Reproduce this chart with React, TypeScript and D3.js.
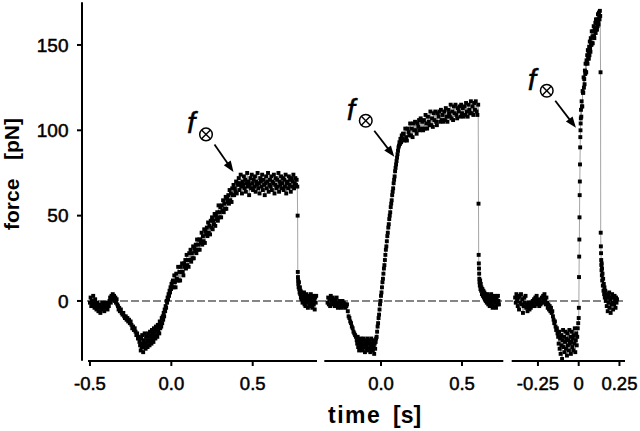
import React from 'react';
import * as d3 from 'd3';

// ---------- DATA ----------
const yTicks = [0, 50, 100, 150];
const panelTicks = [[-0.5, 0, 0.5], [0, 0.5], [-0.25, 0, 0.25]];
const panelTickLabels = [["-0.5", "0.0", "0.5"], ["0.0", "0.5"], ["-0.25", "0", "0.25"]];
const panelDomains = [[-0.512, 0.895], [-0.35, 0.755], [-0.411, 0.284]];
const forceDomain = [-35, 175];

// annotation: centre of the ⊗ label and arrow tip (time, force)
const annotCenters = [[0.213, 97.6], [-0.094, 105.6], [-0.196, 123.2]];
const annotTips = [[0.382, 75.6], [0.082, 84.5], [-0.017, 101.5]];

const panel1: number[][] = [
  [-0.500,-1],[-0.496,2],[-0.492,-3],[-0.488,0],[-0.484,-2],[-0.480,3],[-0.476,-1],[-0.472,-4],[-0.468,1],[-0.464,-2],[-0.460,-5],[-0.456,-1],[-0.452,-3],[-0.448,-6],[-0.444,-2],[-0.440,-4],[-0.436,-7],[-0.432,-3],[-0.428,-5],[-0.424,-1],[-0.420,-4],[-0.416,-2],[-0.412,-6],[-0.408,-3],[-0.404,-1],[-0.400,-4],[-0.396,-2],[-0.392,-5],[-0.388,-1],[-0.384,-3],[-0.380,0],[-0.376,2],[-0.372,-1],[-0.368,3],[-0.364,1],[-0.360,4],[-0.356,2],[-0.352,3],[-0.348,0],[-0.344,2],[-0.340,-1],[-0.336,1],[-0.332,-2],[-0.328,-3],[-0.324,-5],[-0.320,-4],[-0.316,-6],
  [-0.310,-5],[-0.305,-7],[-0.300,-8],[-0.295,-7],[-0.290,-9],[-0.285,-10],[-0.280,-9],[-0.275,-11],[-0.270,-10],[-0.265,-12],[-0.260,-11],[-0.255,-13],[-0.250,-12],[-0.245,-14],[-0.240,-16],[-0.235,-15],[-0.230,-17],[-0.225,-16],[-0.220,-18],[-0.215,-20],[-0.210,-19],[-0.205,-22],[-0.200,-21],[-0.196,-24],[-0.192,-26],
  [-0.188,-29],[-0.185,-22],[-0.182,-27],[-0.179,-20],[-0.176,-25],[-0.173,-30],[-0.170,-23],[-0.167,-27],[-0.164,-19],[-0.161,-25],[-0.158,-28],[-0.155,-21],[-0.152,-26],[-0.149,-23],[-0.146,-27],[-0.143,-19],[-0.140,-24],[-0.137,-21],[-0.134,-26],[-0.131,-18],[-0.128,-23],[-0.125,-20],[-0.122,-25],[-0.119,-17],[-0.116,-22],[-0.113,-19],[-0.110,-24],[-0.107,-16],[-0.104,-21],[-0.101,-18],[-0.098,-22],[-0.095,-15],[-0.092,-20],[-0.089,-17],[-0.086,-21],[-0.083,-14],[-0.080,-18],[-0.077,-15],[-0.074,-19],[-0.071,-12],[-0.068,-16],[-0.065,-13],[-0.062,-15],[-0.059,-10],[-0.056,-13],[-0.053,-9],[-0.050,-11],[-0.047,-7],[-0.044,-9],[-0.041,-5],
  [-0.038,-6],[-0.035,-3],[-0.032,-4],[-0.029,0],[-0.026,-1],[-0.023,2],[-0.020,1],[-0.017,4],[-0.014,3],[-0.011,6],[-0.008,5],[-0.005,8],[-0.002,7],[0.001,10],[0.004,8],[0.007,11],
  [0.010,12],[0.014,8],[0.018,15],[0.022,11],[0.026,8],[0.030,16],[0.034,13],[0.038,12],[0.042,20],[0.046,12],[0.050,17],[0.054,12],[0.058,20],[0.062,17],[0.066,22],[0.070,17],[0.074,15],[0.078,22],[0.082,20],[0.086,24],[0.090,19],[0.094,27],[0.098,21],[0.102,24],[0.106,20],[0.110,28],[0.114,24],[0.118,30],[0.122,23],[0.126,28],[0.130,25],[0.134,32],[0.138,25],[0.142,31],[0.146,29],[0.150,33],[0.154,28],[0.158,36],[0.162,30],[0.166,33],[0.170,36],[0.174,30],[0.178,36],[0.182,34],[0.186,40],[0.190,33],[0.194,38],[0.198,35],[0.202,42],[0.206,34],[0.210,41],[0.214,39],[0.218,43],[0.222,38],[0.226,46],[0.230,40],[0.234,44],[0.238,39],[0.242,47],[0.246,43],[0.250,49],[0.254,42],[0.258,47],[0.262,45],[0.266,51],[0.270,44],[0.274,50],[0.278,48],[0.282,52],[0.286,47],[0.290,56],[0.294,49],[0.298,52],[0.302,55],[0.306,49],[0.310,56],[0.314,53],[0.318,59],[0.322,52],[0.326,57],[0.330,54],[0.334,61],[0.338,54],[0.342,60],[0.346,58],[0.350,62],[0.354,57],[0.358,65],[0.362,59],[0.366,63],[0.370,58],[0.374,66],[0.378,62],[0.382,68],[0.386,62],[0.390,66],[0.394,64],[0.398,70],[0.402,63],[0.406,69],[0.410,68],
  [0.414,72],[0.418,65],[0.422,69],[0.426,74],[0.430,67],[0.434,63],[0.438,70],[0.442,68],[0.446,73],[0.450,66],
  [0.454,71],[0.458,64],[0.462,69],[0.466,75],[0.470,67],[0.474,70],[0.478,62],[0.482,68],[0.486,72],[0.490,66],
  [0.494,74],[0.498,69],[0.502,65],[0.506,71],[0.510,67],[0.514,73],[0.518,64],[0.522,70],[0.526,68],[0.530,75],
  [0.534,66],[0.538,69],[0.542,63],[0.546,72],[0.550,70],[0.554,67],[0.558,74],[0.562,65],[0.566,71],[0.570,68],
  [0.574,62],[0.578,69],[0.582,73],[0.586,66],[0.590,70],[0.594,75],[0.598,64],[0.602,68],[0.606,71],[0.610,67],
  [0.614,73],[0.618,65],[0.622,70],[0.626,69],[0.630,74],[0.634,63],[0.638,68],[0.642,72],[0.646,66],[0.650,71],
  [0.654,67],[0.658,75],[0.662,64],[0.666,70],[0.670,68],[0.674,73],[0.678,66],[0.682,69],[0.686,72],[0.690,65],
  [0.694,71],[0.698,67],[0.702,74],[0.706,63],[0.710,69],[0.714,70],[0.718,66],[0.722,73],[0.726,68],[0.730,71],
  [0.734,64],[0.738,72],[0.742,67],[0.746,70],[0.750,74],[0.754,66],[0.758,69],[0.762,72],[0.766,68],[0.770,71],[0.774,67],
  [0.776,50],[0.777,17],[0.778,14],[0.779,12],[0.780,10],[0.782,8],[0.784,11],[0.786,7],[0.788,5],[0.790,8],[0.792,4],[0.794,6],[0.796,2],[0.798,5],[0.800,1],[0.803,4],[0.806,-1],[0.809,3],[0.812,0],[0.815,5],[0.818,-2],[0.821,2],[0.824,-3],[0.827,1],[0.830,4],[0.833,-1],[0.836,3],[0.839,-4],[0.842,0],[0.845,2],[0.848,-3],[0.851,1],[0.854,-2],[0.857,4],[0.860,-1],[0.863,2],[0.866,-4],[0.869,0],[0.872,3],[0.875,-2],[0.878,1],[0.881,-5],[0.884,2],[0.887,-1],[0.890,3]
];

const panel2: number[][] = [
  [-0.330,-1],[-0.326,2],[-0.322,-2],[-0.318,1],[-0.314,-3],[-0.310,3],[-0.306,0],[-0.302,-2],[-0.298,2],[-0.294,-1],[-0.290,1],[-0.286,-3],[-0.282,0],[-0.278,-2],[-0.274,2],[-0.270,-1],[-0.266,-4],[-0.262,-2],[-0.258,0],[-0.254,-3],[-0.250,-1],[-0.246,-4],[-0.242,-2],[-0.238,0],[-0.234,-3],[-0.230,-1],[-0.226,-2],[-0.222,-4],[-0.218,-2],[-0.214,-3],[-0.210,-2],
  [-0.205,-6],[-0.200,-9],[-0.195,-10],[-0.190,-12],[-0.185,-13],[-0.180,-15],[-0.175,-16],[-0.170,-18],[-0.165,-19],[-0.160,-20],[-0.155,-21],[-0.150,-23],
  [-0.147,-25],[-0.144,-21],[-0.141,-27],[-0.138,-23],[-0.135,-29],[-0.132,-24],[-0.129,-26],[-0.126,-22],[-0.123,-28],[-0.120,-25],[-0.117,-23],[-0.114,-29],[-0.111,-26],[-0.108,-22],[-0.105,-27],[-0.102,-24],[-0.099,-30],[-0.096,-25],[-0.093,-23],[-0.090,-28],[-0.087,-26],[-0.084,-22],[-0.081,-29],[-0.078,-25],[-0.075,-23],[-0.072,-28],[-0.069,-24],[-0.066,-30],[-0.063,-26],[-0.060,-22],[-0.057,-28],[-0.054,-25],[-0.051,-29],[-0.048,-23],[-0.045,-27],[-0.042,-31],[-0.039,-25],[-0.036,-28],[-0.033,-24],[-0.030,-22],
  [-0.027,-21],[-0.024,-18],[-0.021,-15],[-0.018,-13],[-0.015,-10],[-0.012,-8],[-0.009,-5],[-0.006,-2],[-0.003,0],[0.000,3],[0.003,5],[0.006,8],[0.009,11],[0.012,13],[0.015,16],[0.018,19],[0.021,21],[0.024,24],[0.027,27],[0.030,30],[0.033,32],[0.036,35],[0.039,38],[0.042,40],[0.045,43],[0.048,45],[0.051,48],[0.054,50],[0.057,52],[0.060,55],[0.063,57],[0.066,59],[0.069,62],[0.072,64],[0.075,66],[0.078,69],[0.081,71],[0.084,73],[0.087,76],[0.090,78],[0.093,80],[0.096,82],[0.099,84],[0.102,86],[0.105,88],[0.108,90],[0.111,91],[0.114,93],[0.117,92],[0.120,95],[0.124,93],[0.128,97],[0.132,95],[0.136,98],
  [0.140,98],[0.145,94],[0.150,101],[0.155,96],[0.160,94],[0.165,101],[0.170,99],[0.175,97],[0.180,104],[0.185,97],[0.190,101],[0.195,96],[0.200,104],[0.205,100],[0.210,105],[0.215,100],[0.220,98],[0.225,104],[0.230,102],[0.235,106],[0.240,100],[0.245,107],[0.250,101],[0.255,105],[0.260,100],[0.265,106],[0.270,101],[0.275,109],[0.280,104],[0.285,101],[0.290,108],[0.295,105],[0.300,103],[0.305,111],[0.310,103],[0.315,107],[0.320,102],[0.325,110],[0.330,106],[0.335,111],[0.340,105],[0.345,103],[0.350,110],[0.355,108],[0.360,111],[0.365,105],[0.370,112],[0.375,106],[0.380,109],[0.385,105],[0.390,111],[0.395,106],[0.400,113],[0.405,108],[0.410,105],[0.415,112],[0.420,110],[0.425,108],[0.430,115],[0.435,107],[0.440,111],[0.445,106],[0.450,114],[0.455,110],[0.460,115],[0.465,109],[0.470,107],[0.475,113],[0.480,111],[0.485,114],[0.490,108],[0.495,115],[0.500,110],[0.505,113],[0.510,108],[0.515,114],[0.520,109],[0.525,116],[0.530,111],[0.535,108],[0.540,115],[0.545,112],[0.550,110],[0.555,117],[0.560,110],[0.565,114],[0.570,109],[0.575,116],[0.580,112],[0.585,117],[0.590,111],[0.595,109],[0.600,115],
  [0.602,57],[0.603,27],[0.604,22],[0.605,19],[0.606,16],[0.607,13],[0.608,11],[0.610,9],[0.612,12],[0.614,7],[0.616,10],[0.618,6],[0.620,8],[0.623,4],[0.626,7],[0.629,3],[0.632,6],[0.635,2],[0.638,5],[0.641,1],[0.644,4],[0.647,0],[0.650,3],[0.653,-1],[0.656,4],[0.659,1],[0.662,-2],[0.665,3],[0.668,0],[0.671,-3],[0.674,2],[0.677,-1],[0.680,4],[0.683,-2],[0.686,1],[0.689,-4],[0.692,2],[0.695,0],[0.698,-3],[0.701,3],[0.704,-1],[0.707,1],[0.710,-4],[0.713,2],[0.716,0],[0.719,-2],[0.722,3],[0.725,0],[0.728,-2]
];

const panel3: number[][] = [
  [-0.390,2],[-0.386,-1],[-0.382,4],[-0.378,0],[-0.374,-3],[-0.370,2],[-0.366,-5],[-0.362,3],[-0.358,-1],[-0.354,4],[-0.350,-2],[-0.346,1],[-0.342,-7],[-0.338,-3],[-0.334,2],[-0.330,-1],[-0.326,3],[-0.322,-4],[-0.318,-2],[-0.314,-6],[-0.310,-3],[-0.306,-1],[-0.302,-5],[-0.298,-2],[-0.294,-4],[-0.290,-1],[-0.286,-3],[-0.282,0],[-0.278,-2],[-0.274,1],[-0.270,-3],[-0.266,2],[-0.262,-1],[-0.258,3],[-0.254,0],[-0.250,-2],[-0.246,1],[-0.242,-3],[-0.238,0],[-0.234,-2],[-0.230,-1],[-0.226,2],[-0.222,-1],[-0.218,3],[-0.214,0],[-0.210,4],[-0.206,1],[-0.202,-2],[-0.198,2],[-0.194,-1],[-0.190,-4],[-0.186,-2],[-0.182,-5],[-0.178,-3],[-0.174,-6],[-0.170,-4],[-0.166,-7],[-0.162,-6],
  [-0.158,-9],[-0.154,-11],[-0.150,-13],[-0.146,-12],[-0.142,-15],[-0.138,-17],[-0.134,-16],[-0.130,-19],[-0.126,-21],
  [-0.123,-25],[-0.120,-18],[-0.117,-28],[-0.114,-22],[-0.111,-31],[-0.108,-20],[-0.105,-26],[-0.102,-34],[-0.099,-23],[-0.096,-17],[-0.093,-27],[-0.090,-21],[-0.087,-30],[-0.084,-24],[-0.081,-18],[-0.078,-28],[-0.075,-22],[-0.072,-32],[-0.069,-19],[-0.066,-26],[-0.063,-23],[-0.060,-29],[-0.057,-17],[-0.054,-25],[-0.051,-21],[-0.048,-31],[-0.045,-24],[-0.042,-18],[-0.039,-27],[-0.036,-22],[-0.033,-29],[-0.030,-20],[-0.027,-25],[-0.024,-16],[-0.021,-30],[-0.018,-23],[-0.015,-19],[-0.012,-26],[-0.009,-21],[-0.006,-16],[-0.003,-13],
  [0.000,-10],[0.001,-4],[0.002,14],[0.003,26],[0.004,36],[0.005,49],[0.006,62],[0.007,70],[0.008,80],[0.009,90],[0.010,96],[0.011,100],[0.012,104],[0.013,107],
  [0.014,112],[0.016,108],[0.018,117],[0.020,114],[0.022,114],[0.024,123],[0.026,122],[0.028,122],[0.030,131],[0.032,125],[0.034,130],[0.036,127],[0.038,135],[0.040,133],[0.042,139],[0.044,134],[0.046,134],[0.048,141],[0.050,140],[0.052,144],[0.054,139],[0.056,147],[0.058,142],[0.060,146],[0.062,142],[0.064,149],[0.066,144],[0.068,152],[0.070,148],[0.072,146],[0.074,154],[0.076,151],[0.078,150],[0.080,158],[0.082,151],[0.084,155],[0.086,151],[0.088,158],[0.090,155],[0.092,161],[0.094,155],[0.096,154],[0.098,160],[0.100,159],[0.102,163],[0.104,157],[0.106,165],[0.108,159],[0.110,163],[0.112,159],[0.114,165],[0.116,161],[0.118,168],[0.120,164],[0.122,162],[0.124,169],[0.126,167],[0.128,165],[0.130,170],[0.132,167],
  [0.134,134],[0.135,40],[0.136,32],[0.137,28],[0.138,24],[0.139,21],[0.140,18],[0.141,22],[0.142,15],[0.143,19],[0.144,12],[0.146,16],[0.148,9],[0.150,13],[0.152,6],[0.154,10],[0.156,4],[0.158,8],[0.160,2],[0.163,6],[0.166,0],[0.169,4],[0.172,-3],[0.175,2],[0.178,-6],[0.181,3],[0.184,-1],[0.187,5],[0.190,-4],[0.193,1],[0.196,-7],[0.199,2],[0.202,-2],[0.205,4],[0.208,-1],[0.211,-5],[0.214,2],[0.217,-2],[0.220,3],[0.223,0],[0.226,-4],[0.229,2],[0.232,-1],[0.235,1]
];

const panels = [panel1, panel2, panel3];

// ---------- LAYOUT ----------
const W = 640, H = 431;
const panelRanges = [[88, 317], [324.3, 503.3], [511.7, 625]];
const yAxisX = 82;
const xAxisY = 361;
const FONT = "'Liberation Sans', Arial, Helvetica, sans-serif";
const M = 3.9; // marker size

const yScale = d3.scaleLinear().domain(forceDomain).range([360.7, 2.3]);

export default function App() {
  const xScales = panelDomains.map((d, i) => d3.scaleLinear().domain(d).range(panelRanges[i]));
  return (
    <svg width={W} height={H} viewBox={`0 0 ${W} ${H}`}
      style={{ position: 'absolute', left: 0, top: 0, background: '#fff' }}>
      <rect x={0} y={0} width={W} height={H} fill="#fff" />
      {/* zero dashed line */}
      <line x1={87} x2={625} y1={yScale(0)} y2={yScale(0)} stroke="#858585" strokeWidth={2} strokeDasharray="8,3" />

      {/* data */}
      {panels.map((data, i) => {
        const xs = xScales[i];
        const line = d3.line<number[]>().x(d => xs(d[0])).y(d => yScale(d[1]));
        return (
          <g key={i}>
            <path d={line(data) || ''} fill="none" stroke="#9a9a9a" strokeWidth={0.9} />
            {data.map((d, j) => (
              <rect key={j} x={xs(d[0]) - M / 2} y={yScale(d[1]) - M / 2} width={M} height={M} fill="#000" />
            ))}
          </g>
        );
      })}

      {/* y axis */}
      <line x1={yAxisX} x2={yAxisX} y1={yScale(forceDomain[1])} y2={yScale(forceDomain[0])} stroke="#000" strokeWidth={2} />
      {yTicks.map(t => (
        <g key={t}>
          <line x1={yAxisX - 5} x2={yAxisX} y1={yScale(t)} y2={yScale(t)} stroke="#000" strokeWidth={2} />
          <text x={68.5} y={yScale(t)} dy="0.35em" textAnchor="end" fontFamily={FONT} fontSize={19}
            stroke="#000" strokeWidth={0.5}>{t}</text>
        </g>
      ))}

      {/* x axes */}
      {xScales.map((xs, i) => (
        <g key={i}>
          <line x1={panelRanges[i][0]} x2={panelRanges[i][1]} y1={xAxisY} y2={xAxisY} stroke="#000" strokeWidth={2} />
          {panelTicks[i].map((t, j) => (
            <g key={j}>
              <line x1={xs(t)} x2={xs(t)} y1={xAxisY} y2={xAxisY + 5} stroke="#000" strokeWidth={2} />
              <text x={xs(t)} y={390} textAnchor="middle" fontFamily={FONT} fontSize={18.5}
                stroke="#000" strokeWidth={0.5}>{panelTickLabels[i][j]}</text>
            </g>
          ))}
        </g>
      ))}

      {/* axis titles */}
      <text transform="translate(19,230) rotate(-90)" fontFamily={FONT} fontSize={21} fontWeight="bold">
        <tspan x={0}>force</tspan>
        <tspan x={70}>[pN]</tspan>
      </text>
      <text x={328} y={423} fontFamily={FONT} fontSize={23} fontWeight="bold">
        <tspan x={328} letterSpacing={1.5}>time</tspan>
        <tspan x={393}>[s]</tspan>
      </text>

      {/* annotations */}
      {annotCenters.map((c, i) => {
        const xs = xScales[i];
        const cx = xs(c[0]), cy = yScale(c[1]);
        const tx = xs(annotTips[i][0]), ty = yScale(annotTips[i][1]);
        const sx = cx + 8.5, sy = cy + 10;
        const dx = tx - sx, dy = ty - sy;
        const len = Math.hypot(dx, dy);
        const ux = dx / len, uy = dy / len;
        const nx = -uy, ny = ux;
        const hl = 11, hw = 4.2;
        const bx = tx - ux * hl, by = ty - uy * hl;
        const r = 6.3;
        const k = r * 0.707;
        return (
          <g key={i}>
            <text x={cx - 19} y={cy - 1} fontFamily={FONT} fontStyle="italic" fontSize={30}
              stroke="#000" strokeWidth={0.4}>f</text>
            <circle cx={cx} cy={cy} r={r} fill="none" stroke="#000" strokeWidth={1.5} />
            <line x1={cx - k} y1={cy - k} x2={cx + k} y2={cy + k} stroke="#000" strokeWidth={1.4} />
            <line x1={cx - k} y1={cy + k} x2={cx + k} y2={cy - k} stroke="#000" strokeWidth={1.4} />
            <line x1={sx} y1={sy} x2={bx + ux * 2} y2={by + uy * 2} stroke="#000" strokeWidth={1.8} />
            <polygon points={`${tx},${ty} ${bx + nx * hw},${by + ny * hw} ${bx - nx * hw},${by - ny * hw}`} fill="#000" />
          </g>
        );
      })}
    </svg>
  );
}
